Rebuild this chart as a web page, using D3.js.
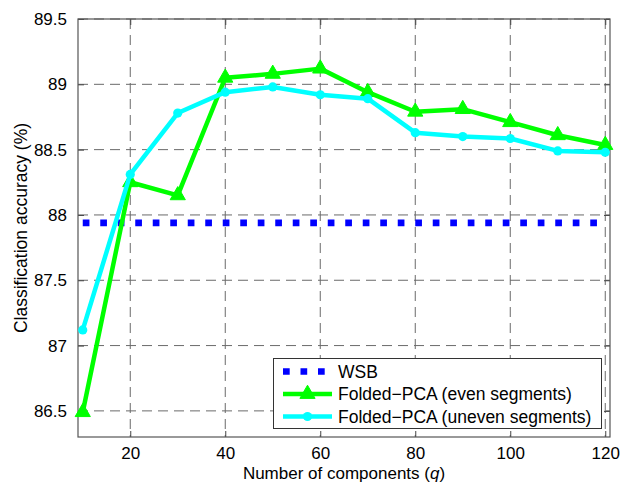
<!DOCTYPE html>
<html><head><meta charset="utf-8">
<script src="https://cdn.jsdelivr.net/npm/d3@7"></script>
<style>
body{margin:0;background:#fff}
svg{display:block}
text{font-family:"Liberation Sans",Arial,Helvetica,sans-serif;fill:#000}
</style>
</head><body><svg id="c" width="621" height="483"></svg>
<script>
const components = [10,20,30,40,50,60,70,80,90,100,110,120];
const evenSeg = [86.49,88.25,88.15,89.05,89.08,89.12,88.94,88.79,88.81,88.71,88.61,88.535];
const unevenSeg = [87.12,88.31,88.78,88.94,88.98,88.92,88.89,88.63,88.60,88.585,88.49,88.48];
const wsbValue = 87.94;
const xTicks = [20,40,60,80,100,120];
const yTicks = [86.5,87,87.5,88,88.5,89,89.5];
const legendLabels = ["WSB","Folded\u2212PCA (even segments)","Folded\u2212PCA (uneven segments)"];
const xLabel = "Number of components (";
const yLabel = "Classification accuracy (%)";

const svg = d3.select("#c");
const L = 78, R = 610, T = 19, B = 437;
const x = d3.scaleLinear().domain([9,121]).range([L,R]);
const y = d3.scaleLinear().domain([86.3,89.5]).range([B,T]);
const BLUE = "#0000ff", GREEN = "#00ff00", CYAN = "#00ffff";

// grid
const grid = svg.append("g");
grid.selectAll("line.v").data(xTicks).join("line")
  .attr("x1", d => x(d)).attr("x2", d => x(d)).attr("y1", T).attr("y2", B)
  .attr("stroke", "#6a6a6a").attr("stroke-width", 1).attr("stroke-dasharray", "10,6");
grid.selectAll("line.h").data(yTicks).join("line")
  .attr("x1", L).attr("x2", R).attr("y1", d => y(d)).attr("y2", d => y(d))
  .attr("stroke", "#6a6a6a").attr("stroke-width", 1).attr("stroke-dasharray", "10,6");

// axes (ticks inward, box)
const axB = svg.append("g").attr("transform", `translate(0,${B})`)
  .call(d3.axisBottom(x).tickValues(xTicks).tickSizeInner(-6).tickSizeOuter(0).tickPadding(10).tickFormat(d3.format("d")));
const axT = svg.append("g").attr("transform", `translate(0,${T})`)
  .call(d3.axisTop(x).tickValues(xTicks).tickSizeInner(-6).tickSizeOuter(0).tickFormat(""));
const axL = svg.append("g").attr("transform", `translate(${L},0)`)
  .call(d3.axisLeft(y).tickValues(yTicks).tickSizeInner(-6).tickSizeOuter(0).tickPadding(11).tickFormat(d => String(d)));
const axR = svg.append("g").attr("transform", `translate(${R},0)`)
  .call(d3.axisRight(y).tickValues(yTicks).tickSizeInner(-6).tickSizeOuter(0).tickFormat(""));
[axB,axT,axL,axR].forEach(a => {
  a.select(".domain").remove();
  a.selectAll(".tick line").attr("stroke", "#444");
  a.selectAll("text").attr("font-size", 17).attr("fill", "#000")
   .style("font-family", '"Liberation Sans",Arial,sans-serif');
});
svg.append("rect").attr("x", L).attr("y", T).attr("width", R-L).attr("height", B-T)
  .attr("fill", "none").attr("stroke", "#555").attr("stroke-width", 1.2);

// WSB
svg.append("line").attr("x1", x(10)).attr("x2", x(120)).attr("y1", y(wsbValue)).attr("y2", y(wsbValue))
  .attr("stroke", BLUE).attr("stroke-width", 6.7).attr("stroke-dasharray", "6.7,10.8");

const line = d3.line().x(d => x(d[0])).y(d => y(d[1]));
const evenPts = components.map((c,i) => [c, evenSeg[i]]);
const unevenPts = components.map((c,i) => [c, unevenSeg[i]]);
const tri = d3.symbol().type(d3.symbolTriangle).size(100);

svg.append("path").attr("d", line(evenPts)).attr("fill", "none")
  .attr("stroke", GREEN).attr("stroke-width", 4.5).attr("stroke-linejoin", "round");
svg.selectAll("path.tri").data(evenPts).join("path").attr("class", "tri")
  .attr("transform", d => `translate(${x(d[0])},${y(d[1])})`).attr("d", tri).attr("fill", GREEN)
  .attr("stroke", GREEN).attr("stroke-width", 1);

svg.append("path").attr("d", line(unevenPts)).attr("fill", "none")
  .attr("stroke", CYAN).attr("stroke-width", 4.5).attr("stroke-linejoin", "round");
svg.selectAll("circle.c").data(unevenPts).join("circle").attr("class", "c")
  .attr("cx", d => x(d[0])).attr("cy", d => y(d[1])).attr("r", 4.6).attr("fill", CYAN);

// axis labels
const xl = svg.append("text").attr("x", (L+R)/2).attr("y", 478.5).attr("text-anchor", "middle").attr("font-size", 17);
xl.append("tspan").text(xLabel);
xl.append("tspan").attr("font-style", "italic").text("q");
xl.append("tspan").text(")");
svg.append("text").attr("transform", `translate(27,${(T+B)/2}) rotate(-90)`)
  .attr("text-anchor", "middle").attr("font-size", 17.5).text(yLabel);

// legend
const lg = svg.append("g");
lg.append("rect").attr("x", 273.5).attr("y", 358.5).attr("width", 328).attr("height", 70)
  .attr("fill", "#fff").attr("stroke", "#333").attr("stroke-width", 1);
const rows = [371.5, 394, 416.5];
const sx1 = 283, sx2 = 332, sxm = 307.5;
lg.append("line").attr("x1", sx1).attr("x2", sx2).attr("y1", rows[0]).attr("y2", rows[0])
  .attr("stroke", BLUE).attr("stroke-width", 6.7).attr("stroke-dasharray", "6.7,10.8");
lg.append("line").attr("x1", sx1).attr("x2", sx2).attr("y1", rows[1]).attr("y2", rows[1])
  .attr("stroke", GREEN).attr("stroke-width", 4.5);
lg.append("path").attr("transform", `translate(${sxm},${rows[1]})`).attr("d", tri).attr("fill", GREEN)
  .attr("stroke", GREEN).attr("stroke-width", 1);
lg.append("line").attr("x1", sx1).attr("x2", sx2).attr("y1", rows[2]).attr("y2", rows[2])
  .attr("stroke", CYAN).attr("stroke-width", 4.5);
lg.append("circle").attr("cx", sxm).attr("cy", rows[2]).attr("r", 4.6).attr("fill", CYAN);
lg.selectAll("text").data(legendLabels).join("text")
  .attr("x", 338).attr("y", (d,i) => rows[i] + 6).attr("font-size", 17.5).text(d => d);
</script>
</body></html>
